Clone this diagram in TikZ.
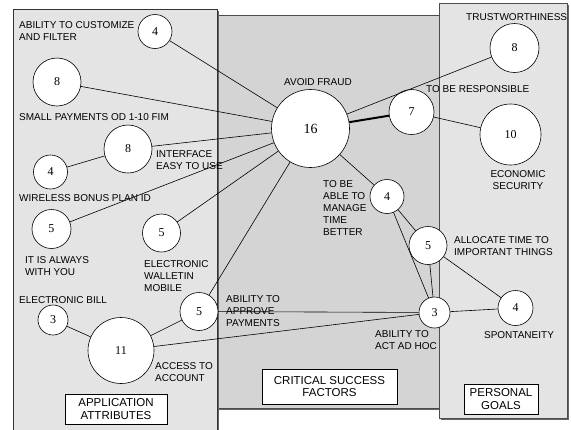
\documentclass[tikz,border=0pt]{standalone}
\usepackage{fontspec}
\setmainfont{Liberation Sans}
\newfontfamily\numfont{Liberation Serif}

\definecolor{paneside}{gray}{0.895}
\definecolor{panemid}{gray}{0.83}
\tikzset{every node/.style={inner sep=0pt}}
\tikzstyle{goal}=[circle,draw,fill=white,line width=0.6pt,font=\numfont\fontsize{12}{12}\selectfont]
\tikzstyle{lbl}=[anchor=north west,align=left,font=\fontsize{10}{12}\selectfont]
\tikzstyle{caption}=[draw,fill=white,line width=0.6pt,align=center,font=\fontsize{11.5}{12.5}\selectfont]
\tikzstyle{link}=[line width=0.6pt]

\begin{document}
\begin{tikzpicture}[x=1pt,y=-1pt]
    \useasboundingbox (0,0) rectangle (571,429);
    % panels
    \fill [black!60] (218.5,16.5) rectangle (441.5,409.5);
    \filldraw [fill=panemid,draw=black!70,line width=0.8pt] (217,15) rectangle (440,408);
    \fill [black!60] (14.5,10.5) rectangle (218.5,431);
    \filldraw [fill=paneside,draw=black!80,line width=0.8pt] (13,9) rectangle (217,431);
    \fill [black!60] (440.5,4.5) rectangle (568.5,419.5);
    \filldraw [fill=paneside,draw=black!70,line width=0.8pt] (439,3) rectangle (567,418);

    % application attributes
    \node [goal,minimum size=34pt] (custom) at (155,31.5) {4};
    \node [goal,minimum size=48pt] (small) at (57,82) {8};
    \node [goal,minimum size=48pt] (easy) at (128,149) {8};
    \node [goal,minimum size=34pt] (wireless) at (50.5,172) {4};
    \node [goal,minimum size=39pt] (always) at (51.5,229) {5};
    \node [goal,minimum size=38pt] (wallet) at (161.5,233) {5};
    \node [goal,minimum size=30pt] (bill) at (53,320) {3};
    \node [goal,minimum size=66pt] (account) at (121,350.5) {11};
    \node [goal,minimum size=38pt] (approve) at (199,311.5) {5};

    % critical success factors
    \node [goal,minimum size=78pt,font=\numfont\fontsize{14}{14}\selectfont] (fraud) at (310.5,128.5) {16};
    \node [goal,minimum size=45pt] (responsible) at (411.5,112) {7};
    \node [goal,minimum size=34pt] (manage) at (387,196.5) {4};
    \node [goal,minimum size=38pt] (allocate) at (428,245.5) {5};
    \node [goal,minimum size=31pt] (adhoc) at (434.5,312.5) {3};

    % personal goals
    \node [goal,minimum size=49pt] (trust) at (514.5,48) {8};
    \node [goal,minimum size=61pt] (economic) at (510.5,134.5) {10};
    \node [goal,minimum size=35pt] (spont) at (515.5,308) {4};

    % connections
    \draw [link] (custom) -- (fraud);
    \draw [link] (small) -- (fraud);
    \draw [link] (easy) -- (fraud);
    \draw [link] (easy) -- (wireless);
    \draw [link] (always) -- (fraud);
    \draw [link] (wallet) -- (fraud);
    \draw [link] (approve) -- (fraud);
    \draw [link] (approve) -- (account);
    \draw [link] (bill) -- (account);
    \draw [link] (account) -- (adhoc);
    \draw [link] (approve) -- (adhoc);
    \draw [line width=2pt] (fraud) -- (responsible);
    \draw [link] (fraud) -- (trust);
    \draw [link] (responsible) -- (economic);
    \draw [link] (fraud) -- (manage);
    \draw [link] (manage) -- (allocate);
    \draw [link] (manage) -- (adhoc);
    \draw [link] (allocate) -- (adhoc);
    \draw [link] (allocate) -- (spont);
    \draw [link] (adhoc) -- (spont);

    % labels
    \node [lbl] (customtxt) at (19,21) {ABILITY TO CUSTOMIZE\\AND FILTER};
    \node [lbl] (smalltxt) at (19,113) {SMALL PAYMENTS OD 1-10 FIM};
    \node [lbl] (easytxt) at (156,150) {INTERFACE\\EASY TO USE};
    \node [lbl] (wirelesstxt) at (19,194) {WIRELESS BONUS PLAN ID};
    \node [lbl] (alwaystxt) at (25,256) {IT IS ALWAYS\\WITH YOU};
    \node [lbl] (wallettxt) at (144,260) {ELECTRONIC\\WALLETIN\\MOBILE};
    \node [lbl] (billtxt) at (19,296) {ELECTRONIC BILL};
    \node [lbl] (approvetxt) at (226,295) {ABILITY TO\\APPROVE\\PAYMENTS};
    \node [lbl] (accounttxt) at (155,362) {ACCESS TO\\ACCOUNT};
    \node [lbl] (fraudtxt) at (284,78) {AVOID FRAUD};
    \node [lbl] (managetxt) at (323,180) {TO BE\\ABLE TO\\MANAGE\\TIME\\BETTER};
    \node [lbl] (adhoctxt) at (375,330) {ABILITY TO\\ACT AD HOC};
    \node [lbl] (trusttxt) at (466,13) {TRUSTWORTHINESS};
    \node [lbl] (responsibletxt) at (426,85) {TO BE RESPONSIBLE};
    \node [lbl,anchor=north,align=center] (economictxt) at (518,170) {ECONOMIC\\SECURITY};
    \node [lbl] (allocatetxt) at (454,236) {ALLOCATE TIME TO\\IMPORTANT THINGS};
    \node [lbl,anchor=north] (sponttxt) at (519,331) {SPONTANEITY};

    % panel captions
    \node [caption,minimum width=102pt,minimum height=30pt] (appcap) at (116,409) {APPLICATION\\ATTRIBUTES};
    \node [caption,minimum width=135pt,minimum height=35pt] (csfcap) at (329.5,386.5) {CRITICAL SUCCESS\\FACTORS};
    \node [caption,minimum width=74pt,minimum height=30pt] (goalcap) at (501,399) {PERSONAL\\GOALS};
\end{tikzpicture}
\end{document}
